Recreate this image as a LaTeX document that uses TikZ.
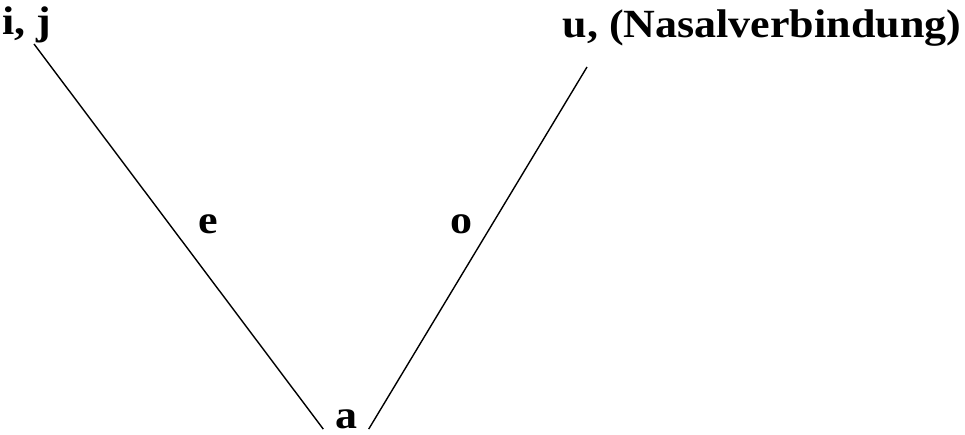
\documentclass[tikz,border=0pt]{standalone}
\usepackage{fontspec}
\setmainfont{Liberation Serif}
\newfontfamily\vowelfont[FakeStretch=1.1]{Liberation Serif}
\begin{document}
\begin{tikzpicture}[x=1pt,y=-1pt,line width=1.4pt,
  vowel/.style={font=\vowelfont\fontsize{40}{44}\selectfont\bfseries,inner sep=0pt}]
\useasboundingbox (0,0) rectangle (965,435);
\node[vowel,anchor=base west] (ij) at (2,35) {i, j};
\node[vowel,anchor=base west] (u) at (562,38) {u, (Nasalverbindung)};
\node[vowel,anchor=base] (e) at (208,234) {e};
\node[vowel,anchor=base] (o) at (461,234) {o};
\node[vowel,anchor=base,inner xsep=11pt] (a) at (346,428) {a};
\coordinate (ij foot) at (34,44);
\coordinate (u foot) at (587,67);
\draw (ij foot) -- (a.south west);
\draw (u foot) -- (a.south east);
\end{tikzpicture}
\end{document}
